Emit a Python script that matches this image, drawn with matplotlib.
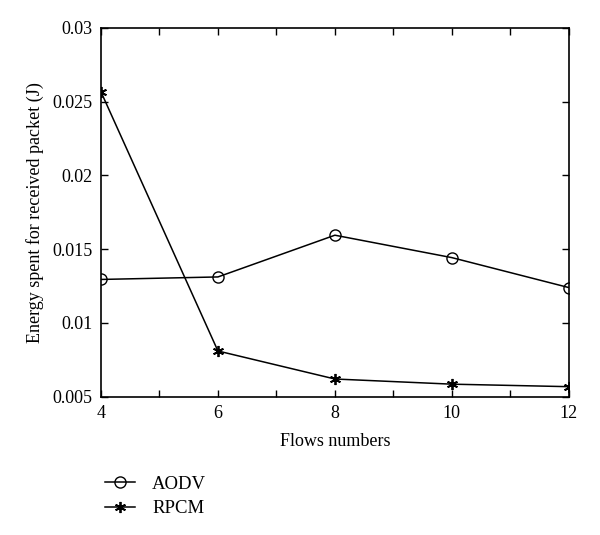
import matplotlib
matplotlib.use("Agg")
import matplotlib.pyplot as plt
from matplotlib.ticker import MultipleLocator

flows = [4, 6, 8, 10, 12]
aodv = [0.01295, 0.01312, 0.01595, 0.01443, 0.01240]
rpcm = [0.02567, 0.00810, 0.00620, 0.00585, 0.00568]
xticks = [4, 6, 8, 10, 12]
yticks = [0.005, 0.01, 0.015, 0.02, 0.025, 0.03]
ytick_labels = ["0.005", "0.01", "0.015", "0.02", "0.025", "0.03"]

plt.rcParams['font.family'] = ['Liberation Serif', 'DejaVu Serif']

fig = plt.figure(figsize=(6, 5.35), dpi=100)
ax = fig.add_axes([0.1683, 0.2585, 0.948 - 0.1683, 0.9477 - 0.2585])

l1, = ax.plot(flows, aodv, color='black', lw=1.1, marker='o', ms=8,
              mfc='none', mec='black', mew=1.0, label='AODV')
l2, = ax.plot(flows, rpcm, color='black', lw=1.1, marker=(6, 2, 0), ms=8,
              mfc='black', mec='black', mew=1.3, label='RPCM')

ax.set_xlim(4, 12)
ax.set_ylim(0.005, 0.03)
ax.set_xticks(xticks)
ax.set_xticklabels([str(v) for v in xticks])
ax.xaxis.set_minor_locator(MultipleLocator(1))
ax.set_yticks(yticks)
ax.set_yticklabels(ytick_labels)

ax.tick_params(which='both', direction='in', top=True, right=True,
               labelsize=13, width=1.0, pad=6)
ax.tick_params(which='major', length=5)
ax.tick_params(which='minor', length=5)
for s in ax.spines.values():
    s.set_linewidth(1.2)

ax.set_xlabel('Flows numbers', fontsize=13, labelpad=8)
ax.set_ylabel('Energy spent for received packet (J)', fontsize=13, labelpad=6)

fig.legend(handles=[l1, l2], loc='upper left', bbox_to_anchor=(0.163, 0.125),
           frameon=False, fontsize=13.5, handlelength=1.6, handletextpad=0.9,
           labelspacing=0.4, borderaxespad=0)

fig.savefig('out.png', dpi=100)
